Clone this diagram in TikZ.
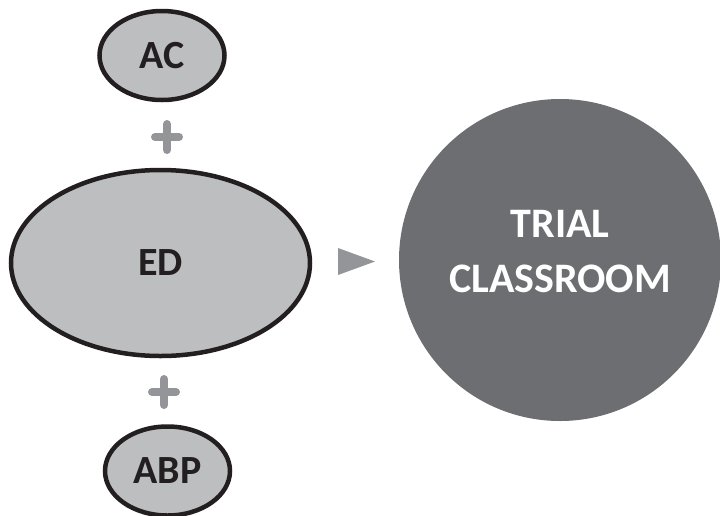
\documentclass[tikz,border=0pt]{standalone}
\usepackage{fontspec}
\setmainfont{Carlito}
\usetikzlibrary{shapes.geometric}
\definecolor{ovalgrey}{HTML}{BCBEC0}
\definecolor{markgrey}{HTML}{939598}
\definecolor{roundgrey}{HTML}{6D6E71}
\definecolor{inkdark}{HTML}{231F20}
\begin{document}
\begin{tikzpicture}[x=1pt,y=-1pt,
    oval/.style={ellipse, draw=inkdark, line width=4.5pt, fill=ovalgrey, text=inkdark, font=\fontsize{40}{44}\selectfont\bfseries, inner sep=0pt},
    plusbar/.style={markgrey, line width=8pt, line cap=round},
    biground/.style={circle, fill=roundgrey, minimum size=322pt},
    roundtext/.style={text=white, align=center, font=\fontsize{42}{55}\selectfont\bfseries}]
    \useasboundingbox (0,0) rectangle (720,515);
    \node[oval, minimum width=125pt, minimum height=89pt] (ac) at (162,55.5) {\raisebox{-3pt}{AC}};
    \node[oval, minimum width=299pt, minimum height=186pt] (ed) at (160.5,263) {ED};
    \node[oval, minimum width=125pt, minimum height=89pt] (abp) at (167.5,471) {ABP};
    \node[biground] (trial) at (560,260) {};
    \node[roundtext] (trialtext) at ([yshift=8pt]trial.center) {TRIAL\\CLASSROOM};
    \coordinate (plusup) at (167,137);
    \coordinate (plusdown) at (164,392);
    \draw[plusbar] ([xshift=-12pt]plusup) -- ([xshift=12pt]plusup);
    \draw[plusbar] ([yshift=13pt]plusup) -- ([yshift=-13pt]plusup);
    \draw[plusbar] ([xshift=-12pt]plusdown) -- ([xshift=12pt]plusdown);
    \draw[plusbar] ([yshift=13pt]plusdown) -- ([yshift=-13pt]plusdown);
    \coordinate (tip) at (375,261.5);
    \fill[markgrey] (tip) -- ++(-37,-13.5) -- ++(0,27) -- cycle;
\end{tikzpicture}
\end{document}
